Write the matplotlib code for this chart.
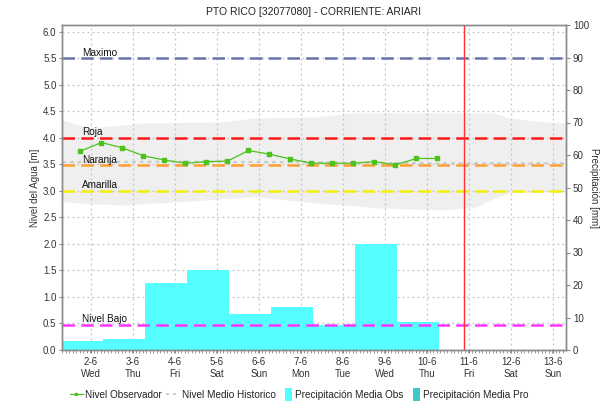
import matplotlib
matplotlib.use('Agg')
import matplotlib.pyplot as plt
from matplotlib.lines import Line2D
from matplotlib.patches import Patch, Rectangle
from matplotlib.legend_handler import HandlerPatch
import numpy as np

plt.rcParams['font.family'] = ['Liberation Sans', 'DejaVu Sans']

# colores
verde = "#4cc21a"
gris_band = "#efefef"
cian = "#55ffff"
cian_pro = "#40c8c8"
gris_eje = "#8a8a8a"
txt = "#333333"

# eje x: dias (0 = 2-6)
dias_lbl = ['2-6\nWed', '3-6\nThu', '4-6\nFri', '5-6\nSat', '6-6\nSun', '7-6\nMon',
            '8-6\nTue', '9-6\nWed', '10-6\nThu', '11-6\nFri', '12-6\nSat', '13-6\nSun']

# nivel observado [m]
obs_x = [-0.25, 0.25, 0.75, 1.25, 1.75, 2.25, 2.75, 3.25, 3.75,
         4.25, 4.75, 5.25, 5.75, 6.25, 6.75, 7.25, 7.75, 8.25]
obs_y = [3.75, 3.91, 3.81, 3.66, 3.58, 3.52, 3.55, 3.56, 3.76,
         3.69, 3.60, 3.52, 3.52, 3.52, 3.55, 3.49, 3.61, 3.61]

# nivel medio historico [m]
hist_x = [-0.69, 2.0, 5.0, 8.0, 11.31]
hist_y = [3.54, 3.55, 3.54, 3.52, 3.52]

# banda historica (min / max) [m]
band_x = [-0.69, -0.07, 0.74, 1.29, 2.31, 3.12, 3.90, 5.33, 6.24, 6.81,
          8.38, 9.19, 9.57, 9.98, 10.76, 11.31]
band_hi = [4.34, 4.18, 4.24, 4.28, 4.29, 4.30, 4.37, 4.39, 4.47, 4.47,
           4.47, 4.47, 4.47, 4.37, 4.30, 4.28]
band_lo = [2.80, 2.76, 2.73, 2.76, 2.80, 2.85, 2.89, 2.77, 2.72, 2.68,
           2.64, 2.70, 2.85, 2.96, 2.98, 2.98]

# precipitacion diaria [mm] (inicio de cada barra en dias)
prec_x = [-1.71, -0.71, 0.29, 1.29, 2.29, 3.29, 4.29, 5.29, 6.29, 7.29]
prec_mm = [30.0, 2.9, 3.3, 20.7, 24.6, 11.1, 13.1, 7.6, 32.5, 8.6]

# umbrales [m]
umbrales = {
    'Maximo': (5.5, '#6675aa'),
    'Roja': (4.0, '#ff1a1a'),
    'Naranja': (3.48, '#ffa033'),
    'Amarilla': (3.0, '#f2f200'),
    'Nivel Bajo': (0.48, '#ff33ff'),
}
hoy = 8.88

fig = plt.figure(figsize=(6.16, 4.04), dpi=100)
ax = fig.add_axes([62/616, 1-350/404, 504/616, 325/404])
ax2 = ax.twinx()

ax.set_xlim(-0.69, 11.31)
ax.set_ylim(0, 6.125)
ax2.set_ylim(0, 100)

ax.set_axisbelow(True)
ax.grid(True, color='#c4c4c4', linestyle=(0, (1.5, 2.5)), linewidth=0.9, zorder=0.5)

ax.fill_between(band_x, band_lo, band_hi, color=gris_band, lw=0, zorder=0.3)

# barras de precipitacion sobre la escala derecha
ax.bar(prec_x, prec_mm, width=1.0, align='edge', color=cian, lw=0,
       transform=ax2.transData, zorder=1)

for nombre, (nivel, col) in umbrales.items():
    ax.axhline(nivel, color=col, lw=1.8, dashes=(5, 2.5), zorder=2)
    ax.text(-0.21, nivel + 0.01, nombre, fontsize=7.2, color='#111111',
            va='bottom', ha='left', zorder=4)

ax.plot(hist_x, hist_y, color='#c8c8c8', lw=1.4, dashes=(2, 2), zorder=2.5)
ax.plot(obs_x, obs_y, color=verde, lw=0.9, marker='s', ms=2.5, zorder=3)
ax.axvline(hoy, color='#ff3333', lw=1.0, zorder=3)

ax.set_xticks(np.arange(len(dias_lbl)))
ax.set_xticklabels(dias_lbl)
ax.set_xticks(np.arange(-0.69, 11.31, 1/12), minor=True)
ax.set_yticks(np.arange(0, 6.01, 0.5))
ax.set_yticklabels(['%.1f' % v for v in np.arange(0, 6.01, 0.5)])
ax2.set_yticks(np.arange(0, 101, 10))

ax.tick_params(axis='x', which='major', length=2, labelsize=7, colors=txt, pad=3)
ax.tick_params(axis='x', which='minor', length=2, color=gris_eje)
ax.tick_params(axis='y', length=2, labelsize=7, colors=txt, pad=2)
ax2.tick_params(axis='y', length=3, labelsize=7, colors=txt, pad=2)
for a in (ax, ax2):
    for s in a.spines.values():
        s.set_color(gris_eje)
        s.set_linewidth(1.0)
    a.tick_params(color=gris_eje, which='both')

ax.set_ylabel('Nivel del Agua [m]', fontsize=7, color=txt, labelpad=2)
ax2.set_ylabel('Precipitación [mm]', fontsize=7, color=txt, rotation=-90,
               labelpad=0, va='bottom')


def parche_fino(legend, orig_handle, xdescent, ydescent, width, height, fontsize):
    w = width * 0.55
    return Rectangle((width - w - xdescent, -ydescent - height * 0.25), w, height * 1.5)


fig.text(313/616, 1-12/404, 'PTO RICO [32077080] - CORRIENTE: ARIARI',
         ha='center', va='center', fontsize=7.5, color='#222222')

handles = [
    Line2D([], [], color=verde, lw=0.9, marker='s', ms=2),
    Line2D([], [], color='#c8c8c8', lw=1.2, dashes=(2, 2)),
    Patch(facecolor=cian, edgecolor='none'),
    Patch(facecolor=cian_pro, edgecolor='none'),
]
labels = ['Nivel Observador', 'Nivel Medio Historico',
          'Precipitación Media Obs', 'Precipitación Media Pro']
fig.legend(handles, labels, loc='center', bbox_to_anchor=(299/616, 1-395/404),
           ncol=4, frameon=False, fontsize=7.2, handlelength=1.3,
           handleheight=0.9, handletextpad=0.25, columnspacing=0.4,
           labelcolor='#222222',
           handler_map={Patch: HandlerPatch(patch_func=parche_fino)})

fig.savefig('out.png', dpi=100)
